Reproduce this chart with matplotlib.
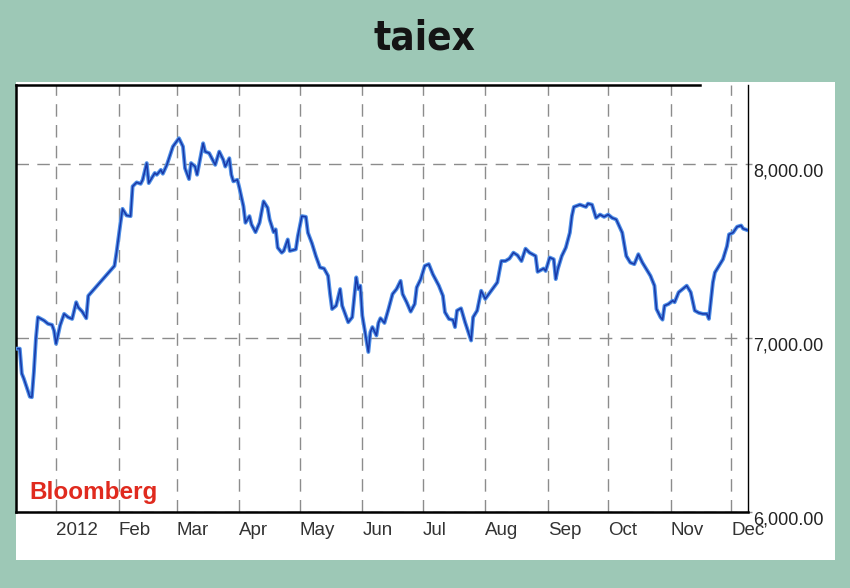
import matplotlib
matplotlib.use('Agg')
import matplotlib.pyplot as plt
import matplotlib.dates as mdates
import matplotlib.patches as patches
import matplotlib.transforms as mtransforms
import pandas as pd

# TAIEX close (Dec 2011 - Dec 2012)
dates = [
    '2011-12-13', '2011-12-14', '2011-12-15', '2011-12-16', '2011-12-19', '2011-12-20',
    '2011-12-21', '2011-12-22', '2011-12-23', '2011-12-26', '2011-12-28', '2011-12-30',
    '2011-12-31', '2012-01-01', '2012-01-03', '2012-01-05', '2012-01-07', '2012-01-09',
    '2012-01-11', '2012-01-12', '2012-01-14', '2012-01-16', '2012-01-17', '2012-01-30',
    '2012-01-31', '2012-02-02', '2012-02-03', '2012-02-05', '2012-02-07', '2012-02-08',
    '2012-02-10', '2012-02-12', '2012-02-13', '2012-02-15', '2012-02-16', '2012-02-17',
    '2012-02-19', '2012-02-20', '2012-02-22', '2012-02-23', '2012-02-25', '2012-02-28',
    '2012-03-02', '2012-03-04', '2012-03-05', '2012-03-07', '2012-03-08', '2012-03-10',
    '2012-03-11', '2012-03-14', '2012-03-15', '2012-03-17', '2012-03-20', '2012-03-22',
    '2012-03-24', '2012-03-25', '2012-03-27', '2012-03-28', '2012-03-29', '2012-03-31',
    '2012-04-01', '2012-04-03', '2012-04-04', '2012-04-06', '2012-04-07', '2012-04-09',
    '2012-04-11', '2012-04-13', '2012-04-15', '2012-04-16', '2012-04-18', '2012-04-19',
    '2012-04-20', '2012-04-22', '2012-04-23', '2012-04-25', '2012-04-26', '2012-04-29',
    '2012-04-30', '2012-05-02', '2012-05-04', '2012-05-05', '2012-05-07', '2012-05-09',
    '2012-05-11', '2012-05-13', '2012-05-15', '2012-05-16', '2012-05-17', '2012-05-19',
    '2012-05-21', '2012-05-22', '2012-05-25', '2012-05-27', '2012-05-29', '2012-05-30',
    '2012-05-31', '2012-06-01', '2012-06-04', '2012-06-05', '2012-06-06', '2012-06-08',
    '2012-06-09', '2012-06-10', '2012-06-12', '2012-06-14', '2012-06-16', '2012-06-18',
    '2012-06-20', '2012-06-21', '2012-06-23', '2012-06-25', '2012-06-27', '2012-06-28',
    '2012-06-30', '2012-07-02', '2012-07-04', '2012-07-06', '2012-07-09', '2012-07-11',
    '2012-07-12', '2012-07-14', '2012-07-16', '2012-07-17', '2012-07-18', '2012-07-20',
    '2012-07-22', '2012-07-25', '2012-07-26', '2012-07-28', '2012-07-30', '2012-08-01',
    '2012-08-04', '2012-08-07', '2012-08-09', '2012-08-11', '2012-08-13', '2012-08-15',
    '2012-08-17', '2012-08-19', '2012-08-21', '2012-08-23', '2012-08-26', '2012-08-27',
    '2012-08-30', '2012-08-31', '2012-09-02', '2012-09-04', '2012-09-05', '2012-09-06',
    '2012-09-08', '2012-09-10', '2012-09-12', '2012-09-13', '2012-09-14', '2012-09-17',
    '2012-09-20', '2012-09-21', '2012-09-23', '2012-09-25', '2012-09-27', '2012-09-29',
    '2012-10-01', '2012-10-03', '2012-10-05', '2012-10-08', '2012-10-10', '2012-10-12',
    '2012-10-14', '2012-10-16', '2012-10-18', '2012-10-20', '2012-10-22', '2012-10-24',
    '2012-10-25', '2012-10-27', '2012-10-28', '2012-10-29', '2012-10-31', '2012-11-02',
    '2012-11-03', '2012-11-05', '2012-11-07', '2012-11-09', '2012-11-11', '2012-11-13',
    '2012-11-15', '2012-11-17', '2012-11-19', '2012-11-20', '2012-11-22', '2012-11-23',
    '2012-11-25', '2012-11-27', '2012-11-29', '2012-11-30', '2012-12-02', '2012-12-04',
    '2012-12-06', '2012-12-07', '2012-12-09',
]
values = [
    6939, 6939, 6796, 6767, 6663, 6660,
    6806, 6996, 7120, 7101, 7082, 7076,
    7043, 6967, 7072, 7139, 7120, 7110,
    7206, 7177, 7152, 7114, 7243, 7415,
    7491, 7663, 7743, 7705, 7701, 7872,
    7895, 7887, 7910, 8006, 7891, 7910,
    7949, 7939, 7967, 7945, 7996, 8101,
    8149, 8101, 7977, 7914, 8006, 7986,
    7939, 8120, 8072, 8063, 7996, 8072,
    8025, 7986, 8034, 7939, 7901, 7910,
    7863, 7758, 7663, 7701, 7653, 7609,
    7663, 7786, 7749, 7682, 7609, 7625,
    7520, 7491, 7501, 7567, 7501, 7510,
    7586, 7701, 7697, 7606, 7545, 7470,
    7406, 7400, 7358, 7253, 7167, 7186,
    7282, 7186, 7091, 7120, 7349, 7282,
    7301, 7129, 6920, 7034, 7063, 7015,
    7087, 7114, 7087, 7167, 7253, 7282,
    7329, 7253, 7206, 7152, 7196, 7291,
    7339, 7415, 7425, 7367, 7301, 7243,
    7149, 7110, 7104, 7063, 7158, 7171,
    7091, 6986, 7120, 7158, 7272, 7225,
    7272, 7320, 7443, 7443, 7457, 7491,
    7476, 7443, 7514, 7491, 7472, 7381,
    7400, 7386, 7463, 7453, 7339, 7396,
    7472, 7520, 7606, 7701, 7754, 7767,
    7754, 7773, 7767, 7691, 7710, 7697,
    7710, 7691, 7682, 7606, 7472, 7434,
    7425, 7482, 7434, 7396, 7358, 7301,
    7167, 7120, 7106, 7186, 7196, 7215,
    7206, 7263, 7282, 7301, 7263, 7158,
    7145, 7139, 7139, 7110, 7320, 7377,
    7415, 7453, 7529, 7596, 7606, 7640,
    7647, 7629, 7621,
]

month_starts = ['2012-01-01', '2012-02-01', '2012-03-01', '2012-04-01', '2012-05-01', '2012-06-01',
                '2012-07-01', '2012-08-01', '2012-09-01', '2012-10-01', '2012-11-01', '2012-12-01']
month_labels = ['2012', 'Feb', 'Mar', 'Apr', 'May', 'Jun', 'Jul', 'Aug', 'Sep', 'Oct', 'Nov', 'Dec']
price_ticks = [6000, 7000, 8000]

x = pd.to_datetime(dates)

plt.rcParams['font.family'] = ['Liberation Sans', 'DejaVu Sans']

fig = plt.figure(figsize=(8.5, 5.88), dpi=100, facecolor='#9dc8b6')
# white card behind the chart
fig.patches.append(patches.Rectangle((16 / 850, 28 / 588), 819 / 850, 478 / 588,
                                     transform=fig.transFigure, facecolor='white',
                                     edgecolor='none', zorder=-1))
ax = fig.add_axes([16 / 850, 76 / 588, 732 / 850, 427 / 588])
ax.set_facecolor('white')

# soft blue halo + core line
ax.plot(x, values, color='#4f8fe6', linewidth=2.8, solid_joinstyle='round', zorder=3)
ax.plot(x, values, color='#1838a8', linewidth=1.1, solid_joinstyle='round', zorder=4)

left = pd.Timestamp('2011-12-12 03:00')
right = pd.Timestamp('2012-12-09 10:00')
ax.set_xlim(left, right)
ax.set_ylim(6010, 8455)

ax.set_xticks(pd.to_datetime(month_starts))
ax.set_xticklabels(month_labels, ha='left', fontsize=13.5, color='#333333')
ax.tick_params(axis='x', length=0, pad=7)

ax.yaxis.tick_right()
ax.set_yticks(price_ticks)
ax.set_yticklabels([f'{v:,.2f}' for v in price_ticks], fontsize=13, color='#222222')
ax.tick_params(axis='y', length=3, width=1, color='#8c8c8c', pad=0.5)
shift = mtransforms.ScaledTranslation(0, -4 / 72, fig.dpi_scale_trans)
for lab in ax.get_yticklabels():
    lab.set_transform(lab.get_transform() + shift)

ax.grid(True, color='#8c8c8c', linewidth=1.0, linestyle=(0, (9, 6)))

ax.spines['left'].set_linewidth(1.8)
ax.spines['bottom'].set_linewidth(1.8)
ax.spines['right'].set_linewidth(1.0)
ax.spines['top'].set_linewidth(1.8)
ax.spines['top'].set_bounds(mdates.date2num(left), mdates.date2num(pd.Timestamp('2012-11-15 12:00')))

ax.text(13 / 732, 12.7 / 427, 'Bloomberg', transform=ax.transAxes, color='#e02a1e',
        fontsize=17.5, fontweight='bold', ha='left', va='baseline', zorder=5)

fig.text(424 / 850, 1 - 38 / 588, 'taiex', ha='center', va='center', fontsize=29,
         fontweight='heavy', color='#141414',
         family=['Liberation Sans Narrow', 'DejaVu Sans'], fontstretch='condensed')

fig.savefig('out.png', dpi=100, facecolor=fig.get_facecolor())
